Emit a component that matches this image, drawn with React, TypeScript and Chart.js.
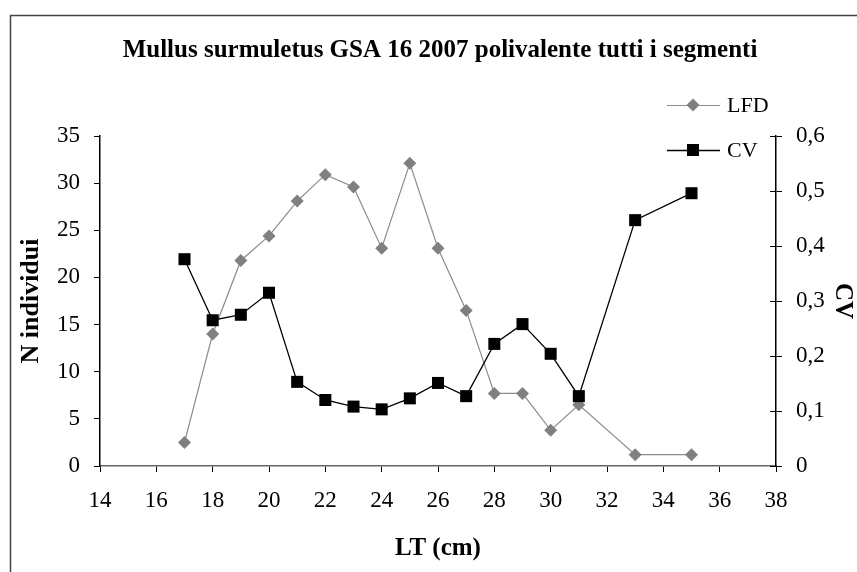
import React, { useEffect, useRef } from "react";
import { Chart, registerables } from "chart.js";

Chart.register(...registerables);

const lengths = [17, 18, 19, 20, 21, 22, 23, 24, 25, 26, 27, 28, 29, 30, 31, 33, 35];
const lfdValues = [2.5, 14, 21.8, 24.4, 28.1, 30.9, 29.6, 23.1, 32.1, 23.1, 16.5, 7.7, 7.7, 3.8, 6.5, 1.2, 1.2];
const cvValues = [0.376, 0.265, 0.275, 0.315, 0.153, 0.12, 0.108, 0.103, 0.123, 0.151, 0.127, 0.222, 0.258, 0.204, 0.127, 0.447, 0.496];
const titleText = "Mullus surmuletus GSA 16 2007 polivalente tutti i segmenti";
const seriesNames = ["LFD", "CV"];

const SERIF = "'Liberation Serif', 'Times New Roman', serif";

const decorPlugin = {
  id: "decor",
  beforeDraw(chart: any) {
    const ctx = chart.ctx;
    ctx.save();
    ctx.fillStyle = "#ffffff";
    ctx.fillRect(0, 0, chart.width, chart.height);
    ctx.strokeStyle = "#444444";
    ctx.lineWidth = 1.5;
    ctx.strokeRect(10.5, 15.5, 1000, 1000);
    ctx.restore();
  },
  afterDraw(chart: any) {
    const ctx = chart.ctx;
    ctx.save();
    // title
    ctx.fillStyle = "#000";
    ctx.font = `bold 25px ${SERIF}`;
    ctx.textAlign = "center";
    ctx.textBaseline = "middle";
    ctx.fillText(titleText, 440, 51);
    // right axis crossing ticks (inner half)
    const yr = chart.scales.y1;
    ctx.strokeStyle = "#000";
    ctx.lineWidth = 1;
    yr.ticks.forEach((t: any) => {
      const py = Math.round(yr.getPixelForValue(t.value)) + 0.5;
      ctx.beginPath();
      ctx.moveTo(yr.left - 6, py);
      ctx.lineTo(yr.left, py);
      ctx.stroke();
    });
    // legend
    const items = [
      { y: 105, ds: chart.data.datasets[0], shape: "diamond" },
      { y: 150, ds: chart.data.datasets[1], shape: "square" },
    ];
    items.forEach((it) => {
      ctx.strokeStyle = it.ds.borderColor;
      ctx.lineWidth = it.ds.borderWidth;
      ctx.beginPath();
      ctx.moveTo(667, it.y + 0.5);
      ctx.lineTo(720, it.y + 0.5);
      ctx.stroke();
      ctx.fillStyle = it.ds.pointBackgroundColor;
      ctx.beginPath();
      if (it.shape === "diamond") {
        ctx.moveTo(693, it.y - 6.5);
        ctx.lineTo(699.5, it.y);
        ctx.lineTo(693, it.y + 6.5);
        ctx.lineTo(686.5, it.y);
      } else {
        ctx.rect(687, it.y - 6, 12, 12);
      }
      ctx.closePath();
      ctx.fill();
      ctx.fillStyle = "#000";
      ctx.font = `22px ${SERIF}`;
      ctx.textAlign = "left";
      ctx.textBaseline = "middle";
      ctx.fillText(it.ds.label, 727, it.y + 1);
    });
    ctx.restore();
  },
};

export default function App() {
  const ref = useRef<HTMLCanvasElement | null>(null);
  useEffect(() => {
    if (!ref.current) return;
    const chart = new Chart(ref.current, {
      type: "line",
      data: {
        datasets: [
          {
            label: seriesNames[0],
            data: lengths.map((x, i) => ({ x, y: lfdValues[i] })),
            yAxisID: "y",
            borderColor: "#8c8c8c",
            backgroundColor: "#808080",
            borderWidth: 1.2,
            pointStyle: "rectRot",
            pointRadius: 6.5,
            pointBackgroundColor: "#808080",
            pointBorderColor: "#808080",
            pointBorderWidth: 0,
            order: 2,
          },
          {
            label: seriesNames[1],
            data: lengths.map((x, i) => ({ x, y: cvValues[i] })),
            yAxisID: "y1",
            borderColor: "#000000",
            backgroundColor: "#000000",
            borderWidth: 1.3,
            pointStyle: "rect",
            pointRadius: 8.5,
            pointBackgroundColor: "#000000",
            pointBorderColor: "#000000",
            pointBorderWidth: 0,
            order: 1,
          },
        ],
      },
      options: {
        responsive: false,
        animation: false,
        layout: { padding: { top: 136, left: 0, right: 0, bottom: 0 } },
        plugins: {
          legend: { display: false },
          title: { display: false },
          tooltip: { enabled: false },
        },
        scales: {
          x: {
            type: "linear",
            min: 14,
            max: 38,
            afterFit: (s: any) => { s.height = 106; },
            ticks: {
              stepSize: 2,
              color: "#000",
              padding: 15,
              font: { family: SERIF, size: 23 },
            },
            grid: { display: true, drawOnChartArea: false, drawTicks: true, tickLength: 6, color: "#000" },
            border: { display: true, color: "#666666", width: 1.5 },
            title: {
              display: true,
              text: "LT (cm)",
              color: "#000",
              font: { family: SERIF, size: 25, weight: "bold" },
              padding: { top: 0, bottom: 8 },
            },
          },
          y: {
            position: "left",
            min: 0,
            max: 35,
            afterFit: (s: any) => { s.width = 100; },
            ticks: {
              stepSize: 5,
              color: "#000",
              padding: 14,
              font: { family: SERIF, size: 23 },
            },
            grid: { display: true, drawOnChartArea: false, drawTicks: true, tickLength: 6, color: "#000" },
            border: { display: true, color: "#000", width: 1.5 },
            title: {
              display: true,
              text: "N individui",
              color: "#000",
              font: { family: SERIF, size: 26, weight: "bold" },
              padding: { top: 16, bottom: 0 },
            },
          },
          y1: {
            position: "right",
            min: 0,
            max: 0.6,
            afterFit: (s: any) => { s.width = 81; },
            ticks: {
              stepSize: 0.1,
              color: "#000",
              padding: 14,
              font: { family: SERIF, size: 23 },
              callback: (v: any) => (v === 0 ? "0" : Number(v).toFixed(1).replace(".", ",")),
            },
            grid: { display: true, drawOnChartArea: false, drawTicks: true, tickLength: 6, color: "#000" },
            border: { display: true, color: "#000", width: 1.5 },
            title: {
              display: true,
              text: "CV",
              color: "#000",
              font: { family: SERIF, size: 25, weight: "bold" },
              padding: { top: 0, bottom: 0 },
            },
          },
        },
      },
      plugins: [decorPlugin],
    } as any);
    return () => chart.destroy();
  }, []);
  return (
    <canvas
      ref={ref}
      width={857}
      height={572}
      style={{ position: "fixed", left: 0, top: 0, width: 857, height: 572 }}
    />
  );
}
